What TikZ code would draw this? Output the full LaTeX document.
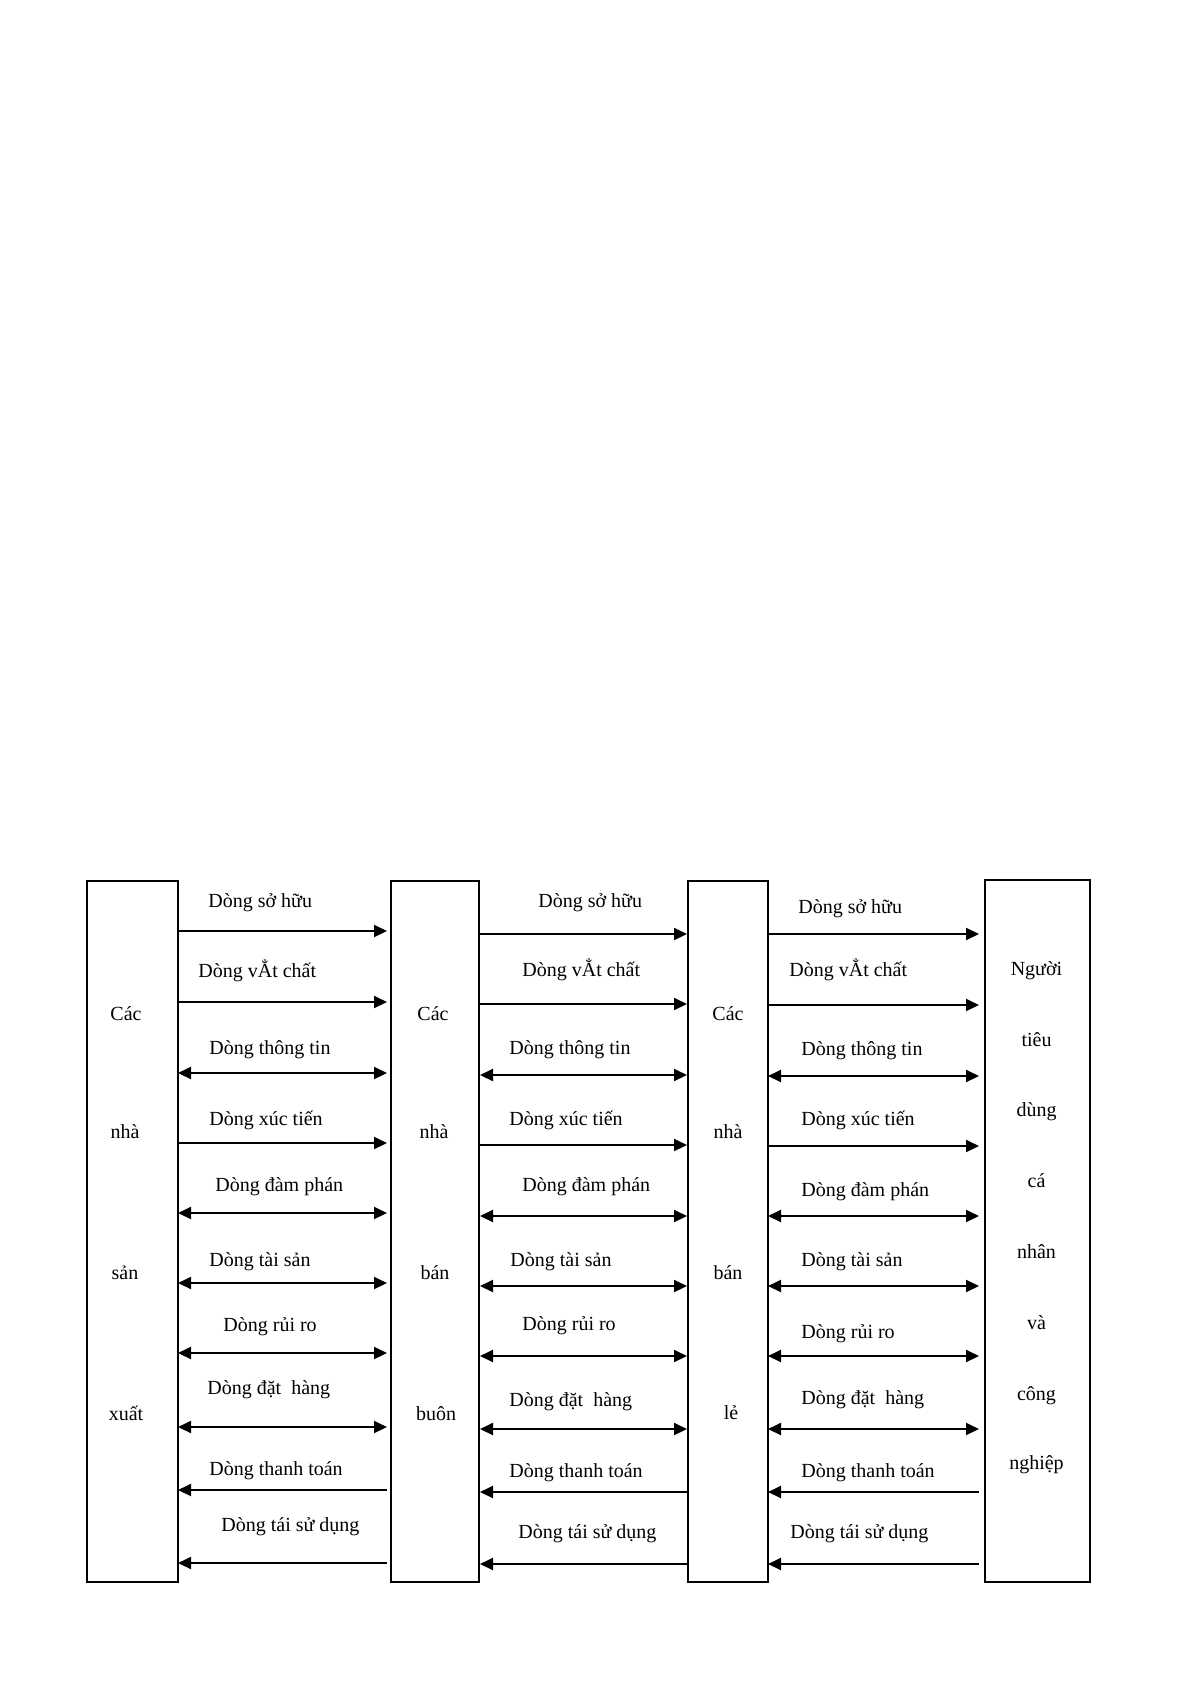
\documentclass[tikz,border=0pt]{standalone}
\usepackage{fontspec}
\setmainfont{Liberation Serif}
\usetikzlibrary{arrows.meta}
\begin{document}
\begin{tikzpicture}[x=0.5pt,y=-0.5pt,
  font=\fontsize{10}{12}\selectfont,
  boxnode/.style={draw, line width=1pt, inner sep=0pt, outer sep=0pt, minimum height=350.5pt},
  boxtext/.style={inner sep=0pt, anchor=mid},
  flowlabel/.style={inner sep=0pt, anchor=mid west},
  flowline/.style={line width=1pt},
  fwdflow/.style={flowline, -{Triangle[length=6.5pt,width=6pt]}},
  twoflow/.style={flowline, {Triangle[length=6.5pt,width=6pt]}-{Triangle[length=6.5pt,width=6pt]}},
  backflow/.style={flowline, {Triangle[length=6.5pt,width=6pt]}-}]
\useasboundingbox (0,0) rectangle (1193,1687);
\fill[white] (0,0) rectangle (1193,1687);

% boxes
\node[boxnode, minimum width=45.5pt] (b1) at (132.5,1231.5) {};
\node[boxnode, minimum width=44pt] (b2) at (435,1231.5) {};
\node[boxnode, minimum width=40pt] (b3) at (728,1231.5) {};
\node[boxnode, minimum width=52.5pt, minimum height=351pt] (b4) at (1037.5,1231) {};

% box texts
\node[boxtext] (t11) at (126,1016) {Các};
\node[boxtext] (t12) at (125,1134) {nhà};
\node[boxtext] (t13) at (125,1275) {sản};
\node[boxtext] (t14) at (126,1416) {xuất};

\node[boxtext] (t21) at (433,1016) {Các};
\node[boxtext] (t22) at (434,1134) {nhà};
\node[boxtext] (t23) at (435,1275) {bán};
\node[boxtext] (t24) at (436,1416) {buôn};

\node[boxtext] (t31) at (728,1016) {Các};
\node[boxtext] (t32) at (728,1134) {nhà};
\node[boxtext] (t33) at (728,1275) {bán};
\node[boxtext] (t34) at (731,1415) {lẻ};

\node[boxtext] (t41) at (1036.5,971) {Người};
\node[boxtext] (t42) at (1036.5,1042) {tiêu};
\node[boxtext] (t43) at (1036.5,1112) {dùng};
\node[boxtext] (t44) at (1036.5,1183) {cá};
\node[boxtext] (t45) at (1036.5,1254) {nhân};
\node[boxtext] (t46) at (1036.5,1325) {và};
\node[boxtext] (t47) at (1036.5,1396) {công};
\node[boxtext] (t48) at (1036.5,1465) {nghiệp};

% column 1 : producers -> wholesalers
\foreach \ya/\yl/\xl/\txt/\st [count=\i] in {
  931/903/208/Dòng sở hữu/fwdflow,
  1002/973/198/Dòng vẲt chất/fwdflow,
  1073/1050/209/Dòng thông tin/twoflow,
  1143/1121/209/Dòng xúc tiến/fwdflow,
  1213/1187/215/Dòng đàm phán/twoflow,
  1283/1262/209/Dòng tài sản/twoflow,
  1353/1327/223/Dòng rủi ro/twoflow,
  1427/1390/207/Dòng đặt~~hàng/twoflow,
  1490/1471/209/Dòng thanh toán/backflow,
  1563/1527/221/Dòng tái sử dụng/backflow}{
  \node[flowlabel] (la\i) at (\xl,\yl) {\txt};
  \draw[\st, shorten >=2pt] (b1.east |- 0,\ya) -- (b2.west |- 0,\ya);
}

% column 2 : wholesalers -> retailers
\foreach \ya/\yl/\xl/\txt/\st [count=\i] in {
  934/903/538/Dòng sở hữu/fwdflow,
  1004/972/522/Dòng vẲt chất/fwdflow,
  1075/1050/509/Dòng thông tin/twoflow,
  1145/1121/509/Dòng xúc tiến/fwdflow,
  1216/1187/522/Dòng đàm phán/twoflow,
  1286/1262/510/Dòng tài sản/twoflow,
  1356/1326/522/Dòng rủi ro/twoflow,
  1429/1402/509/Dòng đặt~~hàng/twoflow,
  1492/1473/509/Dòng thanh toán/backflow,
  1564/1534/518/Dòng tái sử dụng/backflow}{
  \node[flowlabel] (lb\i) at (\xl,\yl) {\txt};
  \draw[\st, shorten >=0.5pt, shorten <=0.5pt] (b2.east |- 0,\ya) -- (b3.west |- 0,\ya);
}

% column 3 : retailers -> consumers
\foreach \ya/\yl/\xl/\txt/\st [count=\i] in {
  934/909/798/Dòng sở hữu/fwdflow,
  1005/972/789/Dòng vẲt chất/fwdflow,
  1076/1051/801/Dòng thông tin/twoflow,
  1146/1121/801/Dòng xúc tiến/fwdflow,
  1216/1192/801/Dòng đàm phán/twoflow,
  1286/1262/801/Dòng tài sản/twoflow,
  1356/1334/801/Dòng rủi ro/twoflow,
  1429/1400/801/Dòng đặt~~hàng/twoflow,
  1492/1473/801/Dòng thanh toán/backflow,
  1564/1534/790/Dòng tái sử dụng/backflow}{
  \node[flowlabel] (lc\i) at (\xl,\yl) {\txt};
  \draw[\st, shorten >=3pt] (b3.east |- 0,\ya) -- (b4.west |- 0,\ya);
}
\end{tikzpicture}
\end{document}
